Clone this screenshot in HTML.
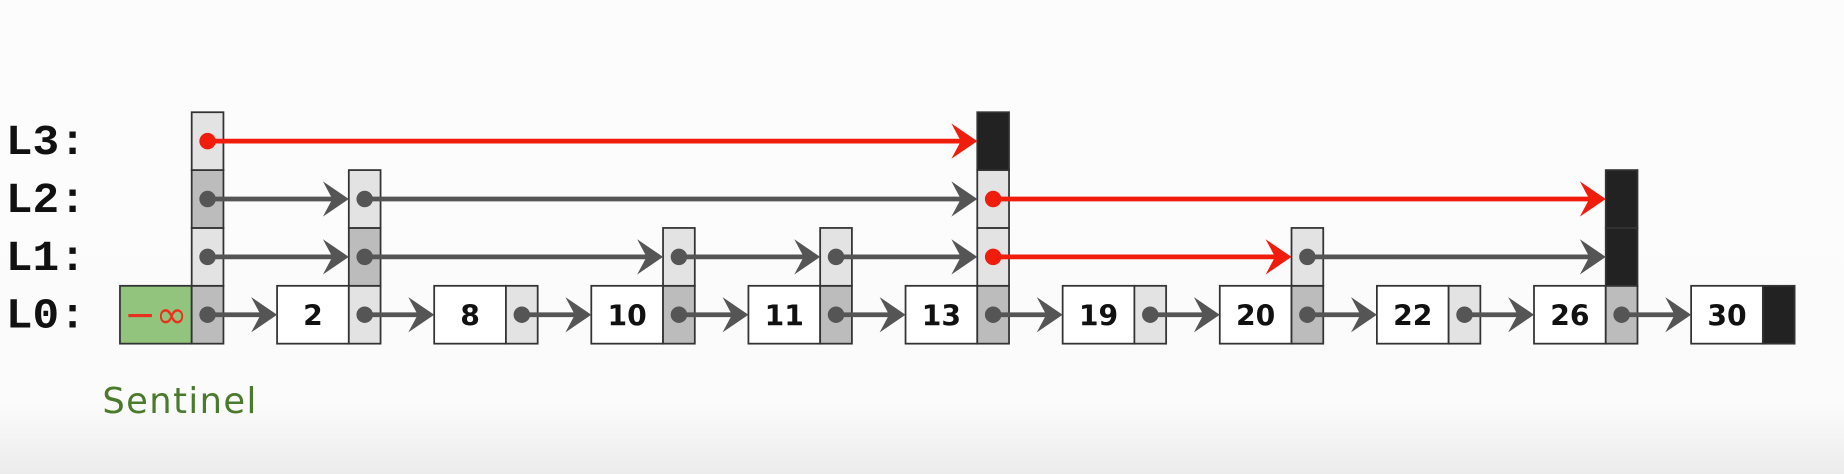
<!DOCTYPE html>
<html><head><meta charset="utf-8"><style>
html,body{margin:0;padding:0;width:1844px;height:474px;overflow:hidden;background:#fff}
svg{display:block}
</style></head><body>
<svg id="chart" width="1844" height="474" viewBox="0 0 1568 403" xmlns="http://www.w3.org/2000/svg">
<defs><linearGradient id="bg" x1="0" y1="0" x2="0" y2="1">
<stop offset="0" stop-color="#fcfcfc"/><stop offset="0.85" stop-color="#fbfbfb"/><stop offset="1" stop-color="#ececec"/></linearGradient></defs>
<rect x="0" y="0" width="1568" height="403" fill="url(#bg)"/>
<g id="labels"></g><g id="nodes"></g><g id="arrows"></g>
<text x="87" y="351" font-family="DejaVu Sans, Liberation Sans, sans-serif" font-size="30" textLength="131" fill="#4a7a2c">Sentinel</text>
</svg>
<script>
const keys = ["-∞","2","8","10","11","13","19","20","22","26","30"];
const heights = [4,3,1,2,2,4,1,2,1,3,1];
const blackLevels = [[],[],[],[],[],[3],[],[],[],[1,2],[0]];
const darkCells = [[0,2],[1],[],[0],[0],[0],[],[0],[],[0],[]];
const redLinks = [[0,3,5],[5,2,9],[5,1,7]];
const levelLabels = ["L0:","L1:","L2:","L3:"];
const NS="http://www.w3.org/2000/svg";
function mk(t,a,p){const e=document.createElementNS(NS,t);for(const k in a)e.setAttribute(k,a[k]);p.appendChild(e);return e;}
const x0=102, pitch=133.6, valW=61, ptrW=27, rowH=49.2, baseTop=243;
function nodeX(i){return x0+i*pitch;}
function ptrX(i){return nodeX(i)+valW;}
function rowTop(l){return baseTop-l*rowH;}
function rowY(l){return rowTop(l)+rowH/2;}
const gl=document.getElementById('labels'),gn=document.getElementById('nodes'),ga=document.getElementById('arrows');
levelLabels.forEach((s,l)=>{
 const t=mk('text',{x:5,y:rowY(l)+11,'font-family':'Liberation Mono, monospace','font-weight':'bold','font-size':36,textLength:68,lengthAdjust:'spacingAndGlyphs',fill:'#111'},gl);
 
 
 t.textContent=s;
});
keys.forEach((k,i)=>{
 const g=mk('g',{},gn);
 
 
 mk('rect',{x:nodeX(i),y:rowTop(0),width:valW,height:rowH,fill:i===0?'#93c47d':'#fff',stroke:'#333','stroke-width':1.5},g);
 const t=mk('text',{x:nodeX(i)+valW/2,y:rowY(0)+9,'text-anchor':'middle','font-family':'DejaVu Sans, Liberation Sans, sans-serif','font-weight':'bold','font-size':i===0?32:24,fill:i===0?'#e8321e':'#111'},g);
 if(i===0){t.setAttribute('font-weight','normal');t.setAttribute('y',rowY(0)+11);t.textContent='−∞';}
 else t.textContent=k;
 for(let l=0;l<heights[i];l++){
  const black=blackLevels[i].includes(l), dark=darkCells[i].includes(l);
  mk('rect',{x:ptrX(i),y:rowTop(l),width:ptrW,height:rowH,fill:black?'#222':(dark?'#bcbcbc':'#e3e3e3'),stroke:'#333','stroke-width':1.5},g);
 }
});
function isRed(i,l){return redLinks.some(r=>r[0]===i&&r[1]===l);}
keys.forEach((k,i)=>{
 for(let l=0;l<heights[i];l++){
  if(blackLevels[i].includes(l))continue;
  let j=i+1; while(j<keys.length&&heights[j]<=l)j++;
  if(j>=keys.length)continue;
  const red=isRed(i,l), col=red?'#f01c0c':'#555';
  const sx=ptrX(i)+ptrW/2, y=rowY(l);
  const ex = l===0 ? nodeX(j) : ptrX(j);
  const g=mk('g',{},ga);
  
  
  mk('line',{x1:sx,y1:y,x2:ex-6,y2:y,stroke:col,'stroke-width':4},g);
  mk('circle',{cx:sx,cy:y,r:7,fill:col},g);
  mk('path',{d:`M${ex} ${y} L${ex-22} ${y-15} L${ex-14} ${y} L${ex-22} ${y+15} Z`,fill:col},g);
 }
});
</script>
</body></html>
